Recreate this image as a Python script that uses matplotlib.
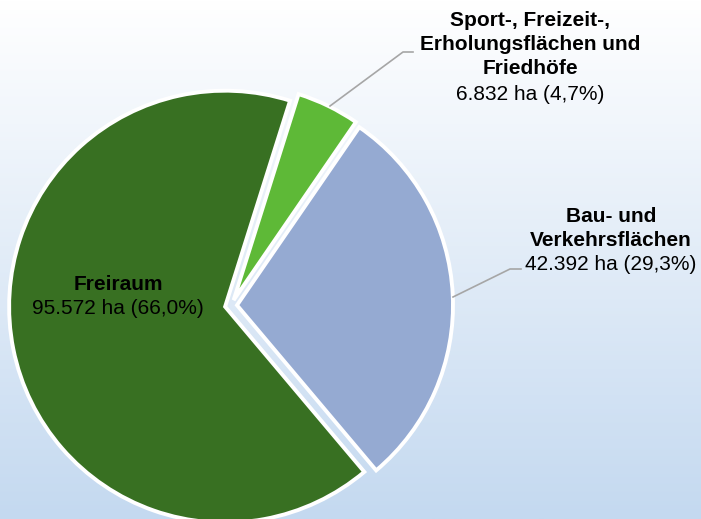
import numpy as np
import matplotlib.pyplot as plt

plt.rcParams['font.family'] = ['Liberation Sans', 'DejaVu Sans']

# Flächennutzung (ha)
names = ['Sport-, Freizeit-,\nErholungsflächen und\nFriedhöfe', 'Bau- und\nVerkehrsflächen', 'Freiraum']
values = [6832, 42392, 95572]
colors = ['#5EB937', '#95AAD2', '#387022']

total = sum(values)
shares = [v / total * 100 for v in values]

def fmt_ha(v):
    return '{:,}'.format(v).replace(',', '.')

def fmt_pct(p):
    return '{:.1f}%'.format(p).replace('.', ',')

W, H = 701, 519
fig = plt.figure(figsize=(W / 100, H / 100), dpi=100)

# background gradient white -> light blue
bg = fig.add_axes([0, 0, 1, 1])
top = np.array([1.0, 1.0, 1.0])
bot = np.array([196, 217, 240]) / 255
t = np.linspace(0, 1, 256)[:, None]
grad = top * (1 - t) + bot * t
bg.imshow(grad[:, None, :], aspect='auto', extent=[0, 1, 0, 1])
bg.axis('off')

ax = fig.add_axes([0, 0, 1, 1])
ax.patch.set_alpha(0)

# pie drawn in pixel units; explode is absolute offset
cx, cy, r = 231, H - 305.5, 216
ax.pie(values, colors=colors, startangle=72.5, counterclock=False,
       center=(cx, cy), radius=r, explode=[6] * 3,
       wedgeprops=dict(edgecolor='white', linewidth=2.8))
ax.set_xlim(0, W)
ax.set_ylim(0, H)
ax.set_aspect('equal')
ax.axis('off')

# leader lines
lc = '#A6A6A6'
ax.plot([330, 403, 413], [H - 106, H - 52, H - 52], color=lc, lw=1.2)
ax.plot([453, 510, 521], [H - 297, H - 269, H - 269], color=lc, lw=1.2)

fs = 15

def label(x, y_lines, name, v, p):
    lines = name.split('\n')
    for yy, ln in zip(y_lines[:-1], lines):
        ax.text(x, H - yy, ln, ha='center', va='center', fontsize=fs,
                fontweight='bold', color='black')
    ax.text(x, H - y_lines[-1], '{} ha ({})'.format(fmt_ha(v), fmt_pct(p)),
            ha='center', va='center', fontsize=fs, color='black')

label(530, [21, 45, 69, 94], names[0], values[0], shares[0])
label(611, [216, 240, 265], names[1], values[1], shares[1])
label(118, [284, 309], names[2], values[2], shares[2])

fig.savefig('out.png', dpi=100)
